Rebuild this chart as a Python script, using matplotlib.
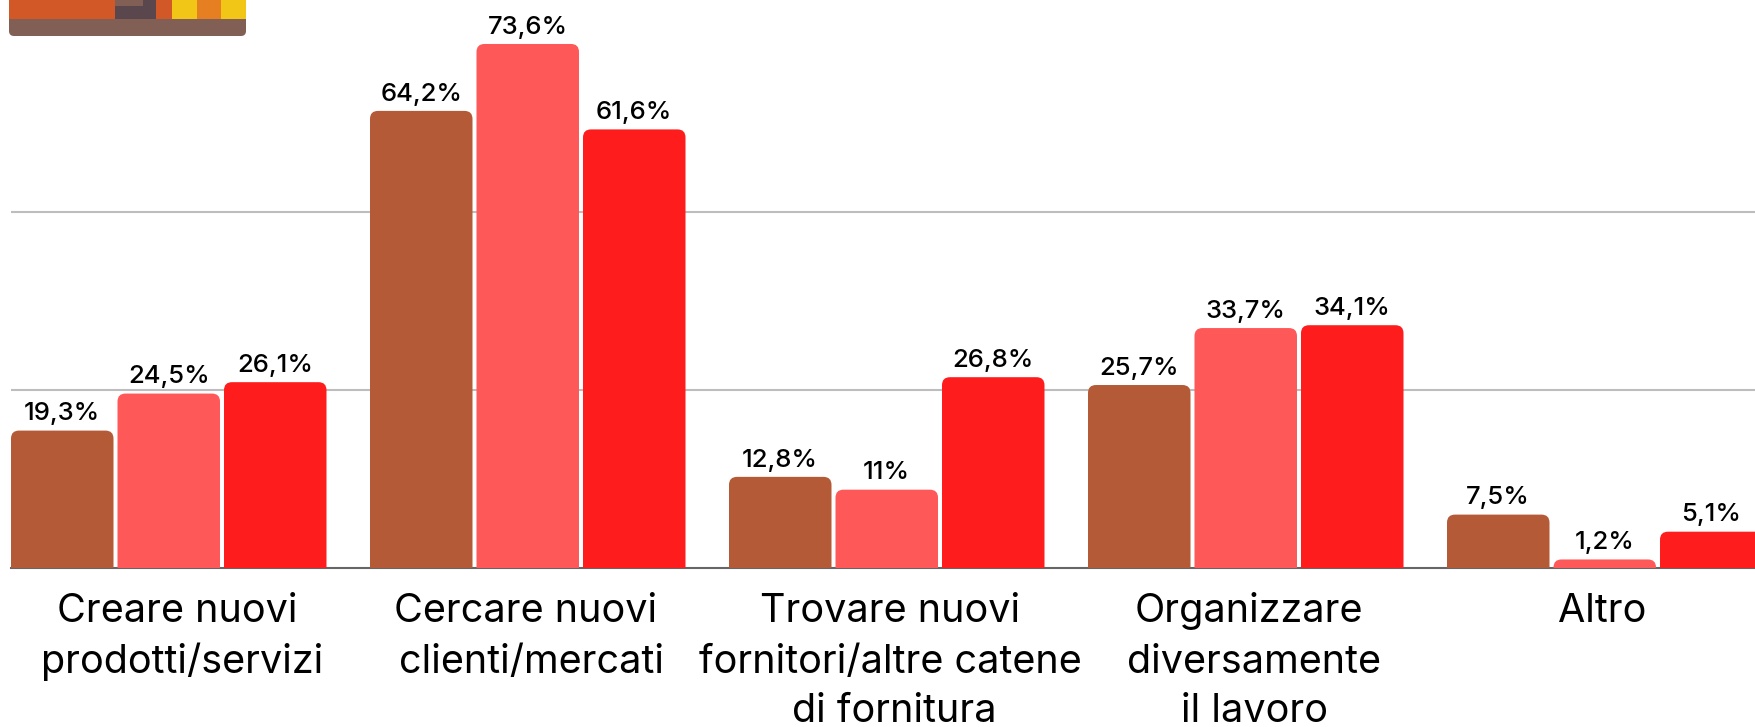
import matplotlib
matplotlib.use("Agg")
import matplotlib.pyplot as plt
from matplotlib.patches import FancyBboxPatch, Rectangle
from matplotlib.transforms import IdentityTransform

categories = [["Creare nuovi", "prodotti/servizi"], ["Cercare nuovi", "clienti/mercati"],
              ["Trovare nuovi", "fornitori/altre catene", "di fornitura"],
              ["Organizzare", "diversamente", "il lavoro"], ["Altro"]]
series_a = [19.3, 64.2, 12.8, 25.7, 7.5]
series_b = [24.5, 73.6, 11, 33.7, 1.2]
series_c = [26.1, 61.6, 26.8, 34.1, 5.1]
colors = ["#B55A36", "#FF5858", "#FF1C1C"]

# the reference lines sit a little off the group centre, in pixels
line_shift = [[8.7, 13.8], [-2, 3.6], [2.9, 4, 8], [3.4, 8.4, 8.4], [-2.8]]

W, H = 1756, 727
base_px = 568
px_per_pct = 7.12
group_px = 359
bar_px = 102.5
step_px = 106.5
line_drop = [54, 105, 154]

plt.rcParams['font.family'] = ['Inter', 'DejaVu Sans']

fig = plt.figure(figsize=(W / 100, H / 100), dpi=100)
ax = fig.add_axes([11 / W, 1 - base_px / H, (W - 11) / W, base_px / H])
ax.set_xlim(0, (W - 11) / group_px)
ax.set_ylim(0, base_px / px_per_pct)

bar_w = bar_px / group_px
step = step_px / group_px
aspect = group_px / px_per_pct

for s, (vals, col) in enumerate(zip([series_a, series_b, series_c], colors)):
    for i, v in enumerate(vals):
        x = i + s * step
        # bar runs below the baseline so only the top corners stay rounded
        p = FancyBboxPatch((x, -5), bar_w, v + 5,
                           boxstyle="round,pad=0,rounding_size=%f" % (8 / group_px),
                           mutation_aspect=aspect, fc=col, ec="none", zorder=3)
        ax.add_patch(p)
        label = ("%g" % v).replace(".", ",") + "%"
        ax.text(x + bar_w / 2, v + 0.75, label, ha="center", va="bottom",
                fontsize=18.5, fontweight=500, color="black", zorder=4)

ax.set_yticks([25, 50])
ax.set_yticklabels([])
ax.grid(axis="y", color="#BDBDBD", lw=1.5, zorder=1)
ax.tick_params(length=0)
centers = [i + (2 * step + bar_w) / 2 for i in range(len(categories))]
ax.set_xticks(centers)
ax.set_xticklabels([])
for c, lines, shifts in zip(centers, categories, line_shift):
    for n, (line, dx) in enumerate(zip(lines, shifts)):
        ax.annotate(line, xy=(c, 0), xycoords=("data", "axes fraction"),
                    xytext=(dx * 0.72, -line_drop[n] * 0.72), textcoords="offset points",
                    ha="center", va="baseline", fontsize=28.5, color="black",
                    annotation_clip=False)
for name in ["top", "left", "right"]:
    ax.spines[name].set_visible(False)
ax.spines["bottom"].set_color("#666666")
ax.spines["bottom"].set_linewidth(1.5)

# cropped icon at the top left
fig.add_artist(FancyBboxPatch((9, H - 36), 237, 30, boxstyle="round,pad=0,rounding_size=5",
                              transform=IdentityTransform(), fc="#825F55", ec="none", zorder=5))
icon = [(9, 0, 106, 19, "#D35827"), (115, 0, 41, 19, "#5A474E"),
        (115, 0, 28, 6, "#825F55"), (156, 0, 16, 19, "#D35827"), (172, 0, 25, 19, "#F1C617"),
        (197, 0, 24, 19, "#E67E22"), (221, 0, 25, 19, "#F1C617")]
for x0, y0, w, h, c in icon:
    fig.add_artist(Rectangle((x0 / W, 1 - (y0 + h) / H), w / W, h / H, transform=fig.transFigure,
                             fc=c, ec="none", zorder=6))

fig.savefig("out.png", dpi=100)
